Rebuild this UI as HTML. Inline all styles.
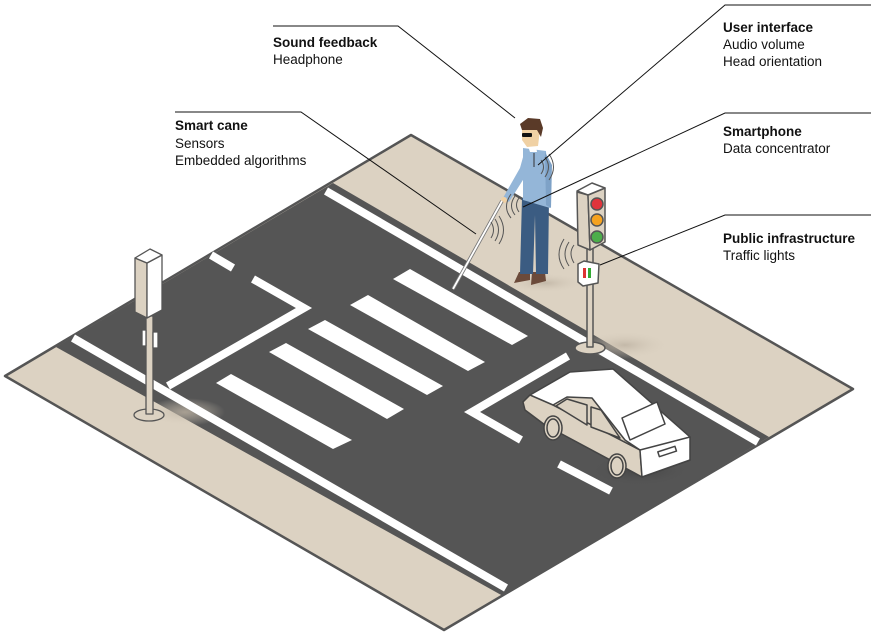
<!DOCTYPE html>
<html><head><meta charset="utf-8"><style>
html,body{margin:0;padding:0;background:#fff;}
svg{display:block;}
text{font-family:"Liberation Sans",sans-serif;font-size:13.5px;fill:#111;}
.b{font-weight:bold;}
</style></head><body>
<svg width="871" height="633" viewBox="0 0 871 633" xmlns="http://www.w3.org/2000/svg">
<defs>
<radialGradient id="sh" cx="50%" cy="50%" r="50%"><stop offset="0" stop-color="#bdb2a2" stop-opacity=".8"/><stop offset="1" stop-color="#dcd2c2" stop-opacity="0"/></radialGradient>
<radialGradient id="sh2" cx="50%" cy="50%" r="50%"><stop offset="0" stop-color="#3a3a3a" stop-opacity=".7"/><stop offset="1" stop-color="#555" stop-opacity="0"/></radialGradient>
</defs>
<!-- ground -->
<polygon points="411,135 853,389 444,630 5,376" fill="#dcd2c2" stroke="#555" stroke-width="2.5" stroke-linejoin="round"/>
<polygon points="333,183 769,437 503,596 56,347" fill="#555555"/>
<!-- shadows -->
<ellipse cx="625" cy="345" rx="45" ry="14" fill="url(#sh)"/>
<ellipse cx="185" cy="412" rx="40" ry="14" fill="url(#sh)"/>
<ellipse cx="545" cy="283" rx="40" ry="10" fill="url(#sh)"/>
<ellipse cx="640" cy="470" rx="50" ry="16" fill="url(#sh2)"/>
<!-- road lines -->
<g stroke="#fff" stroke-width="8" fill="none" stroke-linecap="butt" stroke-linejoin="miter">
<line x1="326" y1="191" x2="758" y2="442"/>
<line x1="73" y1="338" x2="506" y2="588"/>
<polyline points="253,279 304,308 168,386"/>
<polyline points="211,255 233,268"/>
<polyline points="568,356 472,412 521,440"/>
<polyline points="559,464 611,491"/>
</g>
<!-- crosswalk -->
<g fill="#fff">
<polygon points="216,383 231,374 352,440 333,449"/>
<polygon points="269,352 286,343 404,409 387,419"/>
<polygon points="308,329 325,320 443,386 427,395"/>
<polygon points="350,305 368,295 485,362 468,371"/>
<polygon points="393,279 410,269 528,336 512,345"/>
</g>
<!-- left pole -->
<g stroke="#555" stroke-width="1.3" stroke-linejoin="round">
<ellipse cx="149" cy="415" rx="15" ry="6" fill="#dcd2c2"/>
<rect x="146" y="316" width="7" height="98" fill="#dcd2c2"/>
<rect x="142" y="330" width="4" height="16" fill="#fff"/>
<rect x="153" y="332" width="5" height="16" fill="#fff"/>
<polygon points="135,258 147,263 147,318 135,312" fill="#dcd2c2"/>
<polygon points="147,263 162,255 162,310 147,318" fill="#fff"/>
<polygon points="135,258 150,249 162,255 147,263" fill="#fff"/>
</g>
<!-- traffic light -->
<g stroke="#555" stroke-width="1.5" stroke-linejoin="round">
<ellipse cx="590" cy="348" rx="15" ry="6" fill="#dcd2c2"/>
<rect x="587" y="248" width="6" height="99" fill="#dcd2c2"/>
<polygon points="577,192 588,195 590,250 578,245" fill="#dcd2c2"/>
<polygon points="588,195 605,188 605,242 590,250" fill="#dcd2c2"/>
<polygon points="577,191 592,183 605,188 588,195" fill="#fff"/>
<circle cx="597" cy="204" r="6" fill="#e0343b"/>
<circle cx="597" cy="220" r="6" fill="#f5a21f"/>
<circle cx="597" cy="237" r="6" fill="#4cae4a"/>
<polygon points="578,264 584,261 599,264 598,283 583,286 578,282" fill="#fff"/>
</g>
<rect x="583" y="268" width="3" height="10" fill="#d33"/>
<rect x="588" y="268" width="3" height="10" fill="#3a3"/>
<!-- man -->
<g>
<polygon points="519,272 530,272 530,280 514,283" fill="#6b4a3a"/>
<polygon points="532,272 545,272 546,281 531,285" fill="#6b4a3a"/>
<polygon points="522,198 549,198 548,274 536,274 535,215 533,274 520,274" fill="#3b5c82"/>
<polygon points="523,148 546,151 550,208 523,200" fill="#94b6d8"/>
<polygon points="525,150 520,168 503,198 509,202 528,172" fill="#94b6d8"/>
<polygon points="545,152 552,165 551,208 546,205" fill="#7ea2c7"/>
<polygon points="528,146 536,146 537,152 530,152" fill="#fff"/>
<polygon points="522,130 540,130 538,146 527,147 522,140" fill="#f0d1a4"/>
<polygon points="520,124 528,118 540,119 543,128 541,137 537,130 522,130" fill="#5a3a28"/>
<rect x="522" y="133" width="10" height="4" rx="1" fill="#111"/>
<line x1="534" y1="153" x2="534" y2="167" stroke="#333" stroke-width="1"/>
<circle cx="504" cy="200" r="3" fill="#f0d1a4"/>
</g>
<line x1="502" y1="201" x2="453" y2="289" stroke="#777" stroke-width="3.5"/>
<line x1="502" y1="201" x2="453" y2="289" stroke="#fff" stroke-width="1.8"/>
<!-- waves -->
<g fill="none" stroke="#555" stroke-width="1">
<path d="M491,222 q5,8 0,16 M495,219 q7,11 0,22 M499,216 q9,14 0,28"/>
<path d="M519,198 q-5,7 0,14 M515,196 q-7,10 0,19 M511,194 q-9,13 0,24"/>
<path d="M541,160 q5,7 0,14 M545,157 q7,10 0,20 M549,154 q9,13 0,26"/>
<path d="M574,245 q-6,8 0,18 M569,242 q-8,12 0,24 M564,239 q-10,16 0,30"/>
</g>
<!-- car -->
<g stroke="#444" stroke-width="1.5" stroke-linejoin="round">
<polygon points="523,402 530,395 570,372 613,369 690,437 690,460 642,477 530,412" fill="#fff"/>
<polygon points="523,402 530,395 553,405 640,450 642,477 545,425 525,410" fill="#dcd2c2"/>
<polygon points="553,405 567,397 592,398 625,440 640,450" fill="#dcd2c2"/>
<polygon points="556,406 567,399 587,405 587,425" fill="#dcd2c2"/>
<polygon points="591,407 601,410 620,438 591,427" fill="#dcd2c2"/>
<polygon points="622,418 657,402 665,424 630,440" fill="#fff"/>
<polygon points="640,450 690,437 690,460 642,477" fill="#fff"/>
<rect x="658" y="449" width="18" height="5" fill="#fff" transform="rotate(-18 667 451)"/>
<ellipse cx="553" cy="428" rx="9" ry="12" fill="#dcd2c2"/>
<ellipse cx="553" cy="428" rx="6" ry="9" fill="#dcd2c2"/>
<ellipse cx="617" cy="466" rx="9" ry="12" fill="#dcd2c2"/>
<ellipse cx="617" cy="466" rx="6" ry="9" fill="#dcd2c2"/>
</g>
<!-- connectors -->
<g stroke="#111" stroke-width="1" fill="none">
<polyline points="273,26 398,26 515,118"/>
<polyline points="175,112 301,112 476,234"/>
<polyline points="871,5 725,5 538,165"/>
<polyline points="871,113 725,113 523,207"/>
<polyline points="871,215 725,215 600,265"/>
</g>
<!-- labels -->
<text x="273" y="47" class="b">Sound feedback</text>
<text x="273" y="64">Headphone</text>
<text x="175" y="130" class="b">Smart cane</text>
<text x="175" y="148">Sensors</text>
<text x="175" y="165">Embedded algorithms</text>
<text x="723" y="32" class="b">User interface</text>
<text x="723" y="49">Audio volume</text>
<text x="723" y="66">Head orientation</text>
<text x="723" y="136" class="b">Smartphone</text>
<text x="723" y="153">Data concentrator</text>
<text x="723" y="243" class="b">Public infrastructure</text>
<text x="723" y="260">Traffic lights</text>
</svg>
</body></html>
